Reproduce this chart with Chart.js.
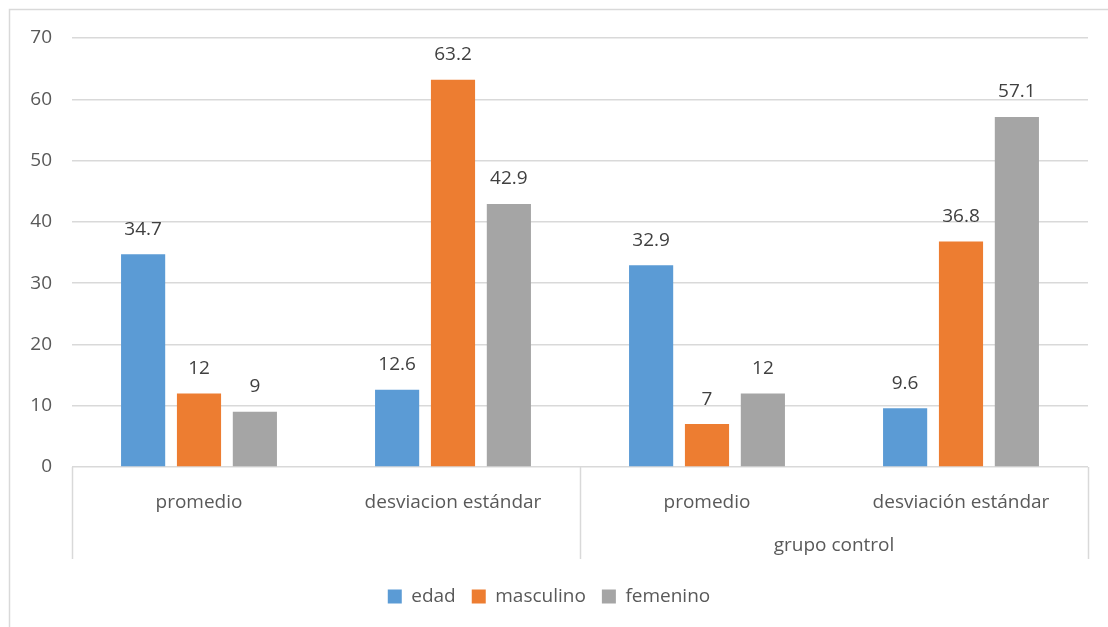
<!DOCTYPE html>
<html>
<head>
<meta charset="utf-8">
<script src="https://cdn.jsdelivr.net/npm/chart.js@4/dist/chart.umd.min.js"></script>
<style>
  body { margin: 0; background: #fff; }
  #wrap { width: 1108px; height: 627px; position: relative; }
</style>
</head>
<body>
<div id="wrap"><canvas id="barChart"></canvas></div>
<script>
// datos
var categories = ['promedio', 'desviacion estándar', 'promedio', 'desviación estándar'];
var groups = ['', 'grupo control'];
var edad = [34.7, 12.6, 32.9, 9.6];
var masculino = [12, 63.2, 7, 36.8];
var femenino = [9, 42.9, 12, 57.1];
var yTicks = [0, 10, 20, 30, 40, 50, 60, 70];

var textColor = '#595959';
var fontFamily = '"Open Sans", "Noto Sans", sans-serif';

// etiquetas de valores encima de las barras
var valueLabels = {
  id: 'valueLabels',
  afterDatasetsDraw: function (chart) {
    var ctx = chart.ctx;
    ctx.save();
    ctx.font = '19px ' + fontFamily;
    ctx.fillStyle = '#404040';
    ctx.textAlign = 'center';
    ctx.textBaseline = 'middle';
    chart.data.datasets.forEach(function (ds, i) {
      chart.getDatasetMeta(i).data.forEach(function (bar, j) {
        ctx.fillText(String(ds.data[j]), bar.x, bar.y - 25);
      });
    });
    ctx.restore();
  }
};

// eje de dos niveles + borde
var groupAxis = {
  id: 'groupAxis',
  beforeDraw: function (chart) {
    var ctx = chart.ctx;
    ctx.save();
    ctx.strokeStyle = '#D9D9D9';
    ctx.lineWidth = 1.5;
    ctx.beginPath();
    ctx.moveTo(9.5, chart.height);
    ctx.lineTo(9.5, 9.5);
    ctx.lineTo(chart.width, 9.5);
    ctx.stroke();
    ctx.restore();
  },
  afterDraw: function (chart) {
    var ctx = chart.ctx;
    var x = chart.scales.x;
    var area = chart.chartArea;
    var step = x.getPixelForValue(1) - x.getPixelForValue(0);
    ctx.save();
    ctx.strokeStyle = '#D9D9D9';
    ctx.lineWidth = 1.5;
    var bounds = [0, 2, 4];
    bounds.forEach(function (b) {
      var px = Math.round(x.getPixelForValue(0) - step / 2 + b * step) + 0.5;
      ctx.beginPath();
      ctx.moveTo(px, area.bottom);
      ctx.lineTo(px, area.bottom + 92);
      ctx.stroke();
    });
    ctx.font = '19px ' + fontFamily;
    ctx.fillStyle = textColor;
    ctx.textAlign = 'center';
    ctx.textBaseline = 'middle';
    groups.forEach(function (g, i) {
      var cx = (x.getPixelForValue(i * 2) + x.getPixelForValue(i * 2 + 1)) / 2;
      ctx.fillText(g, cx, area.bottom + 79);
    });
    ctx.restore();
  }
};

var barConfig = {
  type: 'bar',
  data: {
    labels: categories,
    datasets: [
      { label: 'edad', data: edad, backgroundColor: '#5B9BD5' },
      { label: 'masculino', data: masculino, backgroundColor: '#ED7D31' },
      { label: 'femenino', data: femenino, backgroundColor: '#A5A5A5' }
    ]
  },
  options: {
    responsive: true,
    maintainAspectRatio: false,
    animation: false,
    categoryPercentage: 0.66,
    barPercentage: 0.79,
    layout: { padding: { left: 10, right: 20, top: 38, bottom: 11 } },
    plugins: {
      tooltip: { enabled: false },
      legend: {
        position: 'bottom',
        labels: {
          color: textColor,
          font: { family: fontFamily, size: 19 },
          boxWidth: 14,
          boxHeight: 14,
          padding: 16
        }
      }
    },
    scales: {
      x: {
        grid: { display: false },
        border: { display: false },
        ticks: { color: textColor, font: { family: fontFamily, size: 19 }, padding: 16, maxRotation: 0 },
        afterFit: function (s) { s.height = 104; }
      },
      y: {
        min: 0,
        max: 70,
        afterBuildTicks: function (s) { s.ticks = yTicks.map(function (v) { return { value: v }; }); },
        grid: { color: '#D9D9D9', lineWidth: 1.5, drawTicks: false },
        border: { display: false },
        ticks: { color: textColor, font: { family: fontFamily, size: 19 }, padding: 20 },
        afterFit: function (s) { s.width = 62; }
      }
    }
  },
  plugins: [valueLabels, groupAxis]
};

var barChart = new Chart(document.getElementById('barChart'), barConfig);
</script>
</body>
</html>
